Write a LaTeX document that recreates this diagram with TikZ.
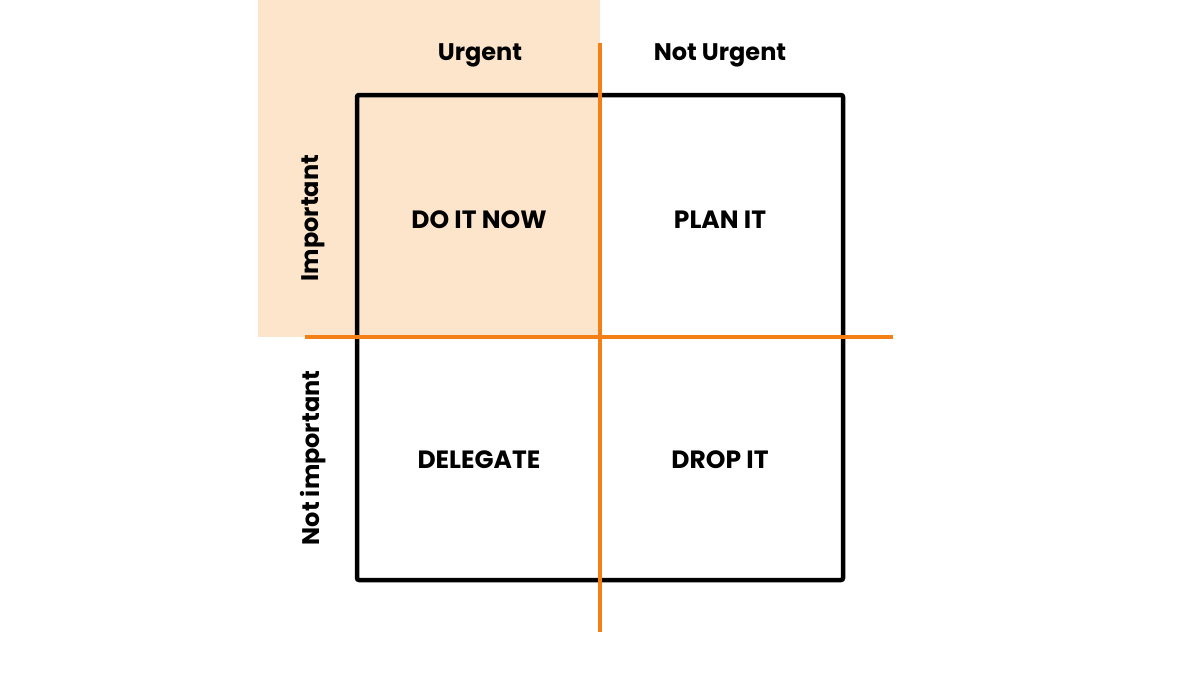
\documentclass[tikz,border=0pt]{standalone}
\usepackage{fontspec}
\setmainfont{Poppins}
\definecolor{peach}{HTML}{FDE5CC}
\definecolor{org}{HTML}{F47F16}
\begin{document}
\begin{tikzpicture}[x=1pt,y=-1pt,
  lbl/.style={font=\bfseries\fontsize{24}{28}\selectfont},
  quad/.style={font=\bfseries\fontsize{25}{30}\selectfont}]
\useasboundingbox (0,0) rectangle (1200,675);
\fill[peach] (258,0) rectangle (600,337);
\draw[line width=4.5pt,rounded corners=2pt] (357,95) rectangle (843,580);
\coordinate (vt) at (600,43); \coordinate (vb) at (600,632);
\coordinate (hl) at (305,337); \coordinate (hr) at (893,337);
\draw[org,line width=4pt] (vt) -- (vb);
\draw[org,line width=4pt] (hl) -- (hr);
\node[lbl] (u) at (480,55) {Urgent};
\node[lbl] (nu) at (720,55) {Not Urgent};
\node[lbl,rotate=90] (im) at (313,218) {Important};
\node[lbl,rotate=90] (ni) at (313,458) {Not important};
\node[quad] (q1) at (479,220) {DO IT NOW};
\node[quad] (q2) at (720,220) {PLAN IT};
\node[quad] (q3) at (479,460) {DELEGATE};
\node[quad] (q4) at (720,460) {DROP IT};
\end{tikzpicture}
\end{document}
